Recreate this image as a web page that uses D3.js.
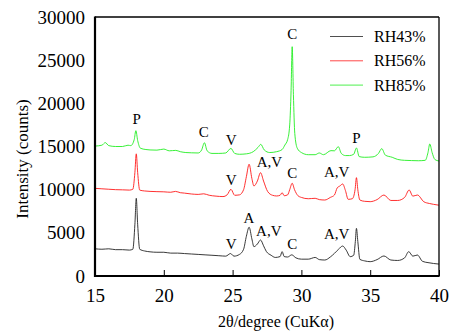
<!DOCTYPE html>
<html>
<head>
<meta charset="utf-8">
<script src="https://cdn.jsdelivr.net/npm/d3@7"></script>
<style>
  body { margin: 0; background: #fff; }
  svg text { font-family: "Liberation Serif", "Times New Roman", Times, "DejaVu Serif", serif !important; }
</style>
</head>
<body>
<div id="graph-holder"></div>
<script>
// 2theta positions and counts
const xBlack = [15.0, 15.5, 16.0, 16.5, 17.0, 17.5, 17.75, 17.9, 18.0, 18.1, 18.25, 18.6, 19.0, 19.5, 20.0, 20.5, 21.0, 21.5, 22.0, 22.5, 23.0, 23.5, 24.0, 24.5, 24.85, 25.1, 25.5, 25.8, 26.0, 26.2, 26.4, 26.55, 26.8, 27.03, 27.25, 27.45, 27.8, 28.1, 28.45, 28.6, 28.75, 29.0, 29.3, 29.6, 30.0, 30.5, 31.0, 31.3, 31.7, 32.1, 32.4, 32.7, 33.0, 33.25, 33.55, 33.8, 33.92, 34.0, 34.1, 34.25, 34.6, 35.0, 35.5, 36.0, 36.5, 37.0, 37.5, 37.8, 38.1, 38.43, 38.8, 39.2, 39.6, 40.0];
const yBlack = [3150, 3100, 3150, 3050, 3050, 3000, 3100, 6000, 9000, 6000, 3100, 2900, 2800, 2750, 2750, 2650, 2650, 2600, 2550, 2500, 2450, 2400, 2350, 2300, 2600, 2300, 2500, 3100, 4600, 5650, 4300, 3400, 3700, 4170, 3500, 2850, 2400, 2150, 2250, 2820, 2250, 2200, 2450, 2100, 1950, 1950, 2150, 1900, 1850, 2200, 2620, 3100, 3470, 3010, 2240, 2400, 4000, 5520, 4000, 1930, 1750, 1660, 1900, 2320, 1850, 1800, 2100, 2820, 2300, 2430, 1700, 1550, 1450, 1380];

const xRed = [15.0, 15.5, 16.0, 16.5, 17.0, 17.5, 17.75, 17.9, 18.0, 18.1, 18.25, 18.6, 19.0, 19.5, 20.0, 20.5, 20.85, 21.2, 21.5, 22.0, 22.5, 22.9, 23.3, 23.8, 24.3, 24.6, 24.88, 25.15, 25.5, 25.8, 26.0, 26.2, 26.4, 26.55, 26.8, 27.03, 27.25, 27.55, 27.9, 28.2, 28.45, 28.6, 28.75, 29.0, 29.15, 29.33, 29.5, 29.75, 30.0, 30.5, 31.0, 31.3, 31.7, 32.1, 32.4, 32.6, 32.8, 33.0, 33.2, 33.4, 33.7, 33.9, 34.0, 34.1, 34.25, 34.6, 35.0, 35.5, 36.0, 36.5, 37.0, 37.5, 37.83, 38.1, 38.43, 38.9, 39.3, 39.6, 40.0];
const yRed = [10150, 10100, 10050, 10000, 9980, 9950, 10050, 12000, 14150, 12000, 9950, 9850, 9800, 9770, 9750, 9700, 9800, 9650, 9600, 9500, 9450, 9520, 9350, 9250, 9200, 9400, 10040, 9350, 9400, 10000, 11500, 12950, 11300, 10430, 11000, 11970, 11000, 9780, 9350, 9270, 9350, 9650, 9300, 9400, 10000, 10740, 10000, 9300, 9100, 8950, 9000, 8850, 8800, 9100, 9380, 10200, 10430, 10660, 9900, 8880, 8950, 10000, 11390, 10000, 8800, 8650, 8610, 8850, 9380, 8750, 8750, 9100, 9960, 9250, 9380, 8600, 8400, 8300, 8200];

const xGreen = [15.0, 15.5, 15.75, 16.0, 16.5, 17.0, 17.4, 17.6, 17.85, 17.97, 18.1, 18.3, 18.7, 19.0, 19.5, 20.0, 20.4, 20.87, 21.2, 21.6, 22.0, 22.5, 22.75, 22.95, 23.15, 23.5, 24.0, 24.5, 24.88, 25.15, 25.5, 26.0, 26.5, 26.85, 27.05, 27.3, 27.7, 28.2, 28.6, 28.8, 29.0, 29.15, 29.25, 29.33, 29.42, 29.52, 29.7, 30.0, 30.5, 31.0, 31.3, 31.6, 32.15, 32.4, 32.68, 32.9, 33.2, 33.5, 33.8, 34.0, 34.2, 34.6, 35.2, 35.6, 35.84, 36.1, 36.6, 37.0, 37.5, 38.0, 38.5, 39.0, 39.2, 39.33, 39.5, 39.7, 40.0];
const yGreen = [15050, 15150, 15450, 15100, 15000, 15000, 15150, 15100, 15800, 16830, 15700, 14800, 14650, 14600, 14580, 14700, 14500, 14550, 14400, 14300, 14270, 14250, 14600, 15440, 14500, 14200, 14200, 14250, 14780, 14200, 14100, 14150, 14400, 14900, 15250, 14600, 14300, 14400, 14650, 15170, 15800, 17500, 21500, 26560, 21000, 16500, 14800, 14300, 14050, 14050, 14250, 14050, 14520, 14500, 14980, 14200, 13950, 13950, 14100, 14830, 13830, 13750, 13800, 14200, 14750, 14000, 13750, 13500, 13400, 13370, 13350, 13400, 14300, 15290, 14300, 13500, 13320];

const seriesNames = ['RH43%', 'RH56%', 'RH85%'];

// peak labels: 2theta, counts, text
const peakX = [18.02, 22.9, 24.9, 29.33, 34.0, 24.9, 27.68, 29.33, 32.56, 24.9, 26.18, 27.63, 29.33, 32.56];
const peakY = [18270, 16720, 15830, 28030, 16070, 11200, 13240, 11970, 12080, 3710, 6800, 5250, 3710, 4950];
const peakText = ['P', 'C', 'V', 'C', 'P', 'V', 'A,V', 'C', 'A,V', 'V', 'A', 'A,V', 'C', 'A,V'];

const xTicks = [15, 20, 25, 30, 35, 40];
const yTicks = [0, 5000, 10000, 15000, 20000, 25000, 30000];

const svgWidth = 449,
      svgHeight = 333;

const margin = { top: 17, right: 10, bottom: 57, left: 95 };
const width = 344,
      height = svgHeight - margin.top - margin.bottom;

const colors = ['#222', '#ff1a1a', '#22ee22'];

const svg = d3.select('#graph-holder')
              .append('svg')
              .attr('width', svgWidth)
              .attr('height', svgHeight);

const g = svg.append('g')
             .attr('transform', `translate(${margin.left}, ${margin.top})`);

const x = d3.scaleLinear().domain([15, 40]).range([0, width]);
const y = d3.scaleLinear().domain([0, 30000]).range([height, 0]);

// x axis, ticks point inward
const xAxis = d3.axisBottom(x)
                .tickValues(xTicks)
                .tickFormat(d3.format('d'))
                .tickSizeInner(-6)
                .tickSizeOuter(0)
                .tickPadding(13);

const gx = g.append('g')
  .attr('transform', `translate(0,${height})`)
  .call(xAxis);
gx.select('.domain').remove();
gx.selectAll('.tick line').attr('stroke', '#000').attr('stroke-width', 1);
gx.selectAll('.tick text')
  .attr('font-size', 19)
  .attr('fill', '#000');

// y axis
const yAxis = d3.axisLeft(y)
                .tickValues(yTicks)
                .tickFormat(d3.format('d'))
                .tickSize(0)
                .tickPadding(10);

const gy = g.append('g').call(yAxis);
gy.select('.domain').remove();
gy.selectAll('.tick text')
  .attr('font-size', 19)
  .attr('fill', '#000');

// curves
const line = d3.line()
               .x(d => x(d[0]))
               .y(d => y(d[1]))
               .curve(d3.curveMonotoneX);

const series = [
  d3.zip(xBlack, yBlack),
  d3.zip(xRed, yRed),
  d3.zip(xGreen, yGreen)
];

g.append('g')
  .selectAll('path')
  .data(series)
  .enter()
  .append('path')
  .attr('d', line)
  .attr('fill', 'none')
  .attr('stroke', (d, i) => colors[i])
  .attr('stroke-width', 0.9);

// frame
g.append('line').attr('x1', 0).attr('x2', width).attr('y1', 0).attr('y2', 0)
  .attr('stroke', '#000').attr('stroke-width', 1.3);
g.append('line').attr('x1', width).attr('x2', width).attr('y1', 0).attr('y2', height)
  .attr('stroke', '#000').attr('stroke-width', 1.3);
g.append('line').attr('x1', 0).attr('x2', 0).attr('y1', -0.6).attr('y2', height + 1)
  .attr('stroke', '#000').attr('stroke-width', 2.2);
g.append('line').attr('x1', -1).attr('x2', width + 0.6).attr('y1', height).attr('y2', height)
  .attr('stroke', '#000').attr('stroke-width', 2.2);

// peak labels
g.append('g')
  .selectAll('text')
  .data(peakText)
  .enter()
  .append('text')
  .attr('x', (d, i) => x(peakX[i]))
  .attr('y', (d, i) => y(peakY[i]))
  .attr('dy', '0.35em')
  .attr('text-anchor', 'middle')
  .attr('font-size', 15)
  .text(d => d);

// legend
const legend = svg.append('g')
                  .attr('transform', 'translate(330,36.5)');

const items = legend.selectAll('g')
  .data(seriesNames)
  .enter()
  .append('g')
  .attr('transform', (d, i) => `translate(0,${i * 24.3})`);

items.append('line')
  .attr('x1', 0).attr('x2', 33)
  .attr('stroke', (d, i) => colors[i])
  .attr('stroke-width', 0.8);

items.append('text')
  .attr('x', 44)
  .attr('dy', '0.35em')
  .attr('font-size', 16)
  .text(d => d);

// axis titles
svg.append('text')
  .attr('x', 276)
  .attr('y', 327)
  .attr('text-anchor', 'middle')
  .attr('font-size', 16)
  .text('2θ/degree (CuKα)');

svg.append('text')
  .attr('transform', 'translate(28,159) rotate(-90)')
  .attr('text-anchor', 'middle')
  .attr('font-size', 17)
  .text('Intensity (counts)');
</script>
</body>
</html>
